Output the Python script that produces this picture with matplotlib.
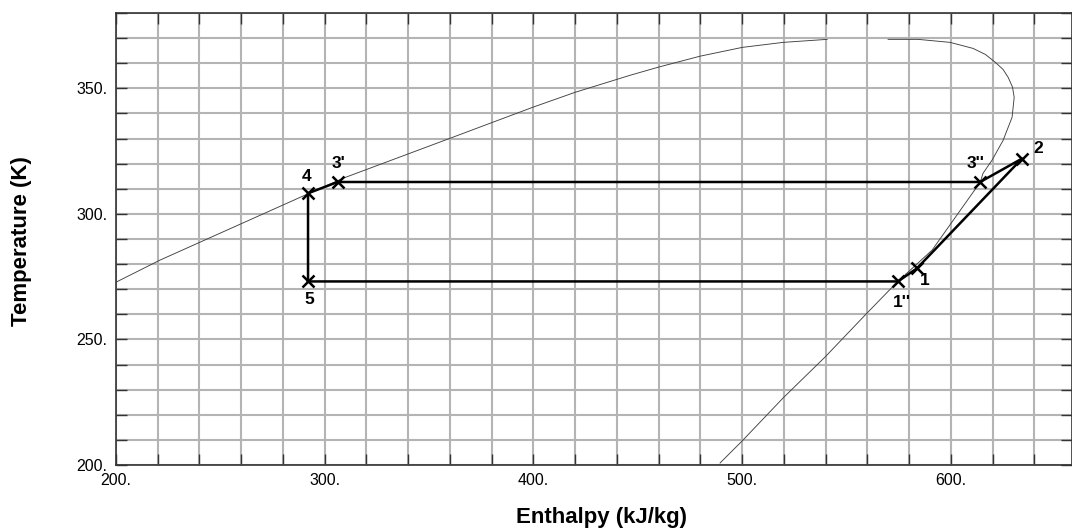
import matplotlib
matplotlib.use('Agg')
import matplotlib.pyplot as plt
from matplotlib.ticker import FuncFormatter
import numpy as np

plt.rcParams['font.family'] = ['Liberation Sans', 'DejaVu Sans']

# saturation curve, liquid side (h kJ/kg, T K)
liq_h = [200.0, 221.1, 292.0, 308.8, 360.0, 399.8, 419.9, 446.3, 459.7, 479.8, 500.0, 519.6, 540.7]
liq_T = [272.8, 281.6, 308.0, 314.2, 330.1, 342.5, 348.4, 355.2, 358.4, 362.8, 366.3, 368.3, 369.5]

# saturation curve, vapour side
vap_h = [569.9, 584.3, 599.6, 610.6, 616.5, 621.2, 625.0, 627.4, 629.5, 630.3, 629.3, 625.0, 619.7,
         615.4, 614.0, 591.0, 574.2, 559.8, 539.7, 519.6, 500.0, 489.4]
vap_T = [369.5, 369.5, 368.3, 365.9, 363.5, 360.4, 357.5, 354.4, 350.5, 346.4, 338.5, 329.3, 321.4,
         316.2, 312.6, 285.6, 272.8, 260.5, 243.0, 226.7, 209.6, 200.8]

# cycle state points, in drawing order
states = ['5', "1''", '1', '2', "3''", "3'", '4']
cyc_h = [292.0, 574.6, 583.7, 634.0, 614.0, 306.2, 292.0]
cyc_T = [273.1, 273.1, 278.3, 322.0, 312.7, 312.7, 308.2]

# label offsets from each marker (pixels, +x right, +y down)
label_off = {'5': (1, 18), "1''": (4, 21), '1': (8, 12), '2': (16, -10),
             "3''": (-5, -18), "3'": (1, -18), '4': (-1, -17)}

fig = plt.figure(figsize=(10.72, 5.28), dpi=100)
ax = fig.add_axes([116 / 1072, 63 / 528, 956 / 1072, 452 / 528])

ax.set_xlim(200, 658)
ax.set_ylim(200, 380)
ax.set_xticks(np.arange(200, 659, 100))
ax.set_xticks(np.arange(200, 659, 20), minor=True)
ax.set_yticks(np.arange(200, 381, 50))
ax.set_yticks(np.arange(200, 381, 10), minor=True)
fmt = FuncFormatter(lambda v, p: f"{v:.0f}.")
ax.xaxis.set_major_formatter(fmt)
ax.yaxis.set_major_formatter(fmt)
ax.grid(which='both', color='#b4b4b4', lw=1.5, zorder=0)
ax.set_axisbelow(True)
ax.tick_params(which='both', direction='in', top=True, right=True, length=8,
               width=1, color='#333333', labelsize=11.5, pad=6)
for s in ax.spines.values():
    s.set_color('#333333')
    s.set_linewidth(1.2)

ax.plot(liq_h, liq_T, color='#404040', lw=0.65, zorder=2)
ax.plot(vap_h, vap_T, color='#404040', lw=0.65, zorder=2)

ax.plot(cyc_h + cyc_h[:1], cyc_T + cyc_T[:1], color='black', lw=1.8, zorder=3)
ax.plot(cyc_h, cyc_T, ls='none', marker='x', ms=8, mew=1.8, color='black', zorder=4)

for name, h, t in zip(states, cyc_h, cyc_T):
    dx, dy = label_off[name]
    ax.annotate(name, (h, t), xytext=(dx * 0.72, -dy * 0.72), textcoords='offset points',
                ha='center', va='center', fontsize=12.5, fontweight='bold', zorder=5)

fig.text(602 / 1072, 11 / 528, 'Enthalpy (kJ/kg)', ha='center', va='center',
         fontsize=16, fontweight='bold')
fig.text(22 / 1072, 287 / 528, 'Temperature (K)', ha='center', va='center',
         rotation=90, fontsize=16, fontweight='bold')

fig.savefig('out.png', dpi=100)
